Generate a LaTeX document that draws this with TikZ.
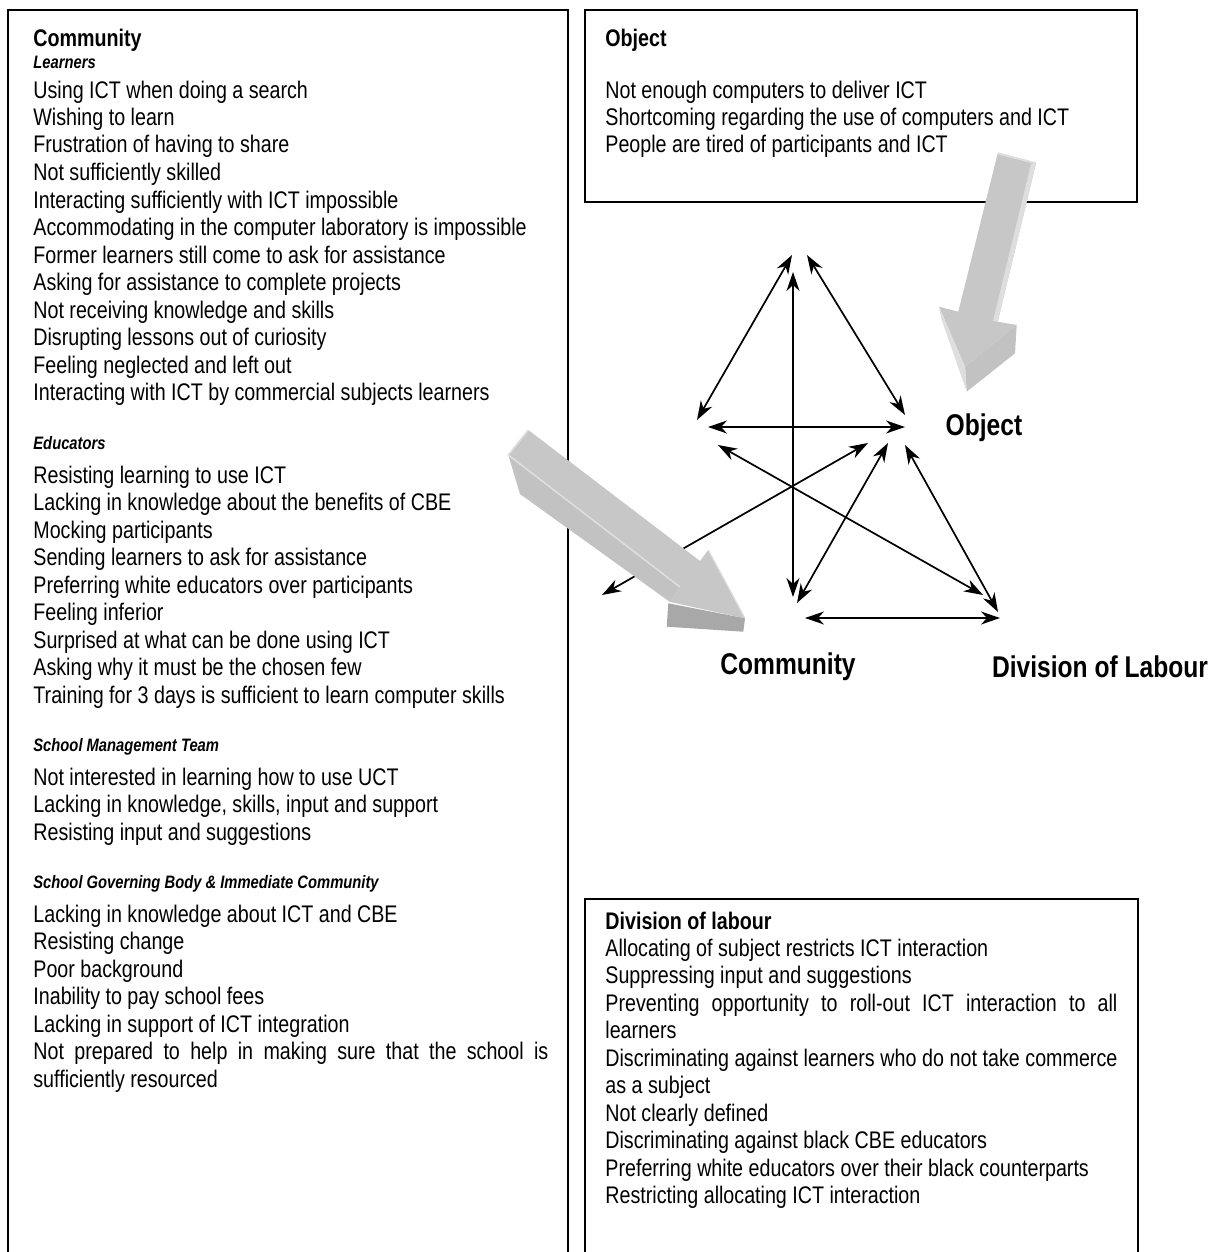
\documentclass[tikz,border=0pt]{standalone}
\usepackage{fontspec}
\setmainfont{Liberation Sans}[FakeStretch=0.82]
\usepackage{tikz}
\usetikzlibrary{positioning, arrows.meta}

\definecolor{slabtop}{gray}{0.78}
\definecolor{slabside}{gray}{0.76}
\definecolor{slabdark}{gray}{0.66}
\definecolor{slablight}{gray}{0.87}

\begin{document}
\begin{tikzpicture}[x=0.5pt, y=-0.5pt]
		% Styles
		\tikzstyle{frame} = [draw, line width=1pt]
		\tikzstyle{txt} = [anchor=base west, inner sep=0pt, align=justify,
		text width=257.5pt, font=\fontsize{12}{13.75}\selectfont]
		\tikzstyle{head} = [anchor=base west, inner sep=0pt,
		font=\fontsize{12}{13.75}\selectfont\bfseries]
		\tikzstyle{subhead} = [anchor=base west, inner sep=0pt,
		font=\fontsize{9}{10.5}\selectfont\bfseries\itshape]
		\tikzstyle{corner} = [inner sep=0pt, font=\fontsize{15}{18}\selectfont\bfseries]
		\tikzstyle{line} = [draw, line width=0.85pt,
		{Stealth[length=9.5pt, width=6.5pt, inset=3pt]}-{Stealth[length=9.5pt, width=6.5pt, inset=3pt]}]

		\useasboundingbox (0,0) rectangle (1207,1252);
		\clip (0,0) rectangle (1207,1252);

		% Boxes
		\draw [frame] (8,10) rectangle (568,1270);
		\draw [frame] (585,10) rectangle (1137,202);
		\draw [frame] (585,899) rectangle (1138,1270);

		% Community box
		\node [head] (community) at (33,47) {Community};
		\node [subhead] (learners) at (33,69) {Learners};
		\node [txt] (learnlist) at (33,98) {Using ICT when doing a search\\
			Wishing to learn\\
			Frustration of having to share\\
			Not sufficiently skilled\\
			Interacting sufficiently with ICT impossible\\
			Accommodating in the computer laboratory is impossible\\
			Former learners still come to ask for assistance\\
			Asking for assistance to complete projects\\
			Not receiving knowledge and skills\\
			Disrupting lessons out of curiosity\\
			Feeling neglected and left out\\
			Interacting with ICT by commercial subjects learners};
		\node [subhead] (educators) at (33,449) {Educators};
		\node [txt] (edulist) at (33,483) {Resisting learning to use ICT\\
			Lacking in knowledge about the benefits of CBE\\
			Mocking participants\\
			Sending learners to ask for assistance\\
			Preferring white educators over participants\\
			Feeling inferior\\
			Surprised at what can be done using ICT\\
			Asking why it must be the chosen few\\
			Training for 3 days is sufficient to learn computer skills};
		\node [subhead] (smt) at (33,751) {School Management Team};
		\node [txt] (smtlist) at (33,785) {Not interested in learning how to use UCT\\
			Lacking in knowledge, skills, input and support\\
			Resisting input and suggestions};
		\node [subhead] (sgb) at (33,888) {School Governing Body \& Immediate Community};
		\node [txt] (sgblist) at (33,922) {Lacking in knowledge about ICT and CBE\\
			Resisting change\\
			Poor background\\
			Inability to pay school fees\\
			Lacking in support of ICT integration\\
			Not prepared to help in making sure that the school is\linebreak
			sufficiently resourced};

		% Object box
		\node [head] (object) at (605,47) {Object};
		\node [txt] (objlist) at (605,98) {Not enough computers to deliver ICT\\
			Shortcoming regarding the use of computers and ICT\\
			People are tired of participants and ICT};

		% Division of labour box
		\node [head] (division) at (605,929) {Division of labour};
		\node [txt, text width=256pt] (divlist) at (605,956) {Allocating of subject restricts ICT interaction\\
			Suppressing input and suggestions\\
			Preventing opportunity to roll-out ICT interaction to all\linebreak
			learners\\
			Discriminating against learners who do not take commerce\linebreak
			as a subject\\
			Not clearly defined\\
			Discriminating against black CBE educators\\
			Preferring white educators over their black counterparts\\
			Restricting allocating ICT interaction};

		% Triangle corners
		\node [corner] (objlabel) at (984,428) {Object};
		\node [corner] (commlabel) at (788,667) {Community};
		\node [corner] (divlabel) at (1100,667) {Division of Labour};

		\coordinate (tool-l) at (792,255);
		\coordinate (tool-r) at (807,255);
		\coordinate (tool-b) at (793,272);
		\coordinate (subj-t) at (697,420);
		\coordinate (subj-r) at (708,427);
		\coordinate (subj-b) at (718,445);
		\coordinate (obj-t) at (905,415);
		\coordinate (obj-l) at (905,427);
		\coordinate (obj-r) at (868,443);
		\coordinate (obj-c) at (888,443);
		\coordinate (obj-b) at (905,445);
		\coordinate (rules) at (602,595);
		\coordinate (comm-t) at (793,597);
		\coordinate (comm-o) at (797,603);
		\coordinate (comm-r) at (805,618);
		\coordinate (div-s) at (983,595);
		\coordinate (div-o) at (998,612);
		\coordinate (div-l) at (1000,618);

		% Connections
		\path [line] (subj-t) -- (tool-l);
		\path [line] (tool-r) -- (obj-t);
		\path [line] (subj-r) -- (obj-l);
		\path [line] (tool-b) -- (comm-t);
		\path [line] (subj-b) -- (div-s);
		\path [line] (obj-r) -- (rules);
		\path [line] (comm-o) -- (obj-c);
		\path [line] (obj-b) -- (div-o);
		\path [line] (comm-r) -- (div-l);

		% Block arrow into Object
		\fill [slabtop] (997.7,153.3) -- (1036,163.3) -- (997.7,321.7) -- (1016.7,325)
		-- (965,366.7) -- (939,306.7) -- (958.3,311.7) -- cycle;
		\fill [slabside] (965,366.7) -- (1016.7,325) -- (1015,353.3) -- (966.7,391.7) -- cycle;
		\fill [slablight] (939,306.7) -- (965,366.7) -- (966.7,391.7) -- (941,318) -- cycle;
		\fill [slablight] (1036,163.3) -- (1031,164) -- (993,321) -- (997.7,321.7) -- cycle;
		\draw [slablight, line width=1pt] (997.7,153.3) -- (1036,163.3);

		% Block arrow into Community
		\fill [slabtop] (528.3,430) -- (700,561) -- (708.3,550) -- (745,618.3)
		-- (670,602) -- (680,587) -- (508.3,455) -- cycle;
		\fill [slabside] (508.3,455) -- (680,587) -- (670,602) -- (520,494) -- cycle;
		\fill [slabdark] (668.3,603.3) -- (745,618.3) -- (743.3,631.7) -- (666.7,626.7) -- cycle;
		\draw [slablight, line width=0.8pt] (528.3,430) -- (508.3,455) -- (680,587);
		\draw [slablight, line width=0.6pt] (708.3,550) -- (745,618.3);
	\end{tikzpicture}
\end{document}
